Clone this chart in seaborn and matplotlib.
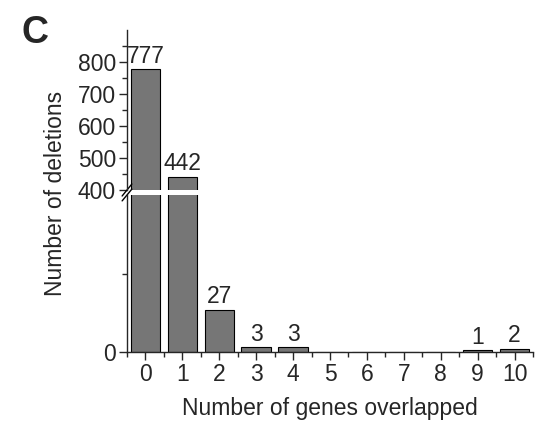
import matplotlib
matplotlib.use("Agg")
import matplotlib.pyplot as plt
import seaborn as sns
import numpy as np
from matplotlib.ticker import FixedLocator

sns.set_style("ticks")
plt.rcParams['font.family'] = ['Liberation Sans', 'DejaVu Sans']

genes = ["0", "1", "2", "3", "4", "5", "6", "7", "8", "9", "10"]
deletions = [777, 442, 27, 3, 3, 0, 0, 0, 0, 1, 2]
labels = ["777", "442", "27", "3", "3", "", "", "", "", "1", "2"]

FS = 16.5
fig = plt.figure(figsize=(5.46, 4.25), dpi=100)
fig.patch.set_facecolor("white")
L, R = 127/546, 533/546
ax_top = fig.add_axes([L, 1-190/425, R-L, (190-30)/425])
ax_bot = fig.add_axes([L, 1-352/425, R-L, (352-195)/425])

bar_kw = dict(color="#767676", edgecolor="black", linewidth=0.8, saturation=1, width=0.8)
for ax in (ax_top, ax_bot):
    sns.barplot(x=genes, y=deletions, ax=ax, **bar_kw)
    ax.set_xlim(-0.5, 10.5)
    ax.set_facecolor("white")
    ax.spines['right'].set_visible(False)
    ax.spines['top'].set_visible(False)
    ax.set_ylabel("")
    ax.set_xlabel("")
    ax.tick_params(axis='both', which='major', direction='out', length=6, width=1, labelsize=FS, pad=2)
    ax.tick_params(axis='both', which='minor', direction='out', length=3.5, width=1)
    for s in ax.spines.values():
        s.set_linewidth(1)

ax_top.set_ylim(400, 900)
ax_top.set_yticks([400, 500, 600, 700, 800])
ax_top.yaxis.set_minor_locator(FixedLocator([450, 550, 650, 750, 850]))
ax_top.spines['bottom'].set_visible(False)
ax_top.tick_params(axis='x', which='both', bottom=False, labelbottom=False)

ax_bot.set_ylim(0, 100)
ax_bot.set_yticks([0])
ax_bot.yaxis.set_minor_locator(FixedLocator([50]))
ax_bot.xaxis.set_minor_locator(FixedLocator(np.arange(-0.5, 10.6, 1.0)))
ax_bot.set_xlabel("Number of genes overlapped", fontsize=FS, labelpad=8)

# value labels
for i, (v, t) in enumerate(zip(deletions, labels)):
    if not t:
        continue
    target = ax_top if v > 400 else ax_bot
    target.annotate(t, (i, v), xytext=(0, 1), textcoords='offset points',
                    ha='center', va='bottom', fontsize=FS)

# break marks
d = 0.015
kw = dict(color='black', clip_on=False, linewidth=1)
ax_top.plot([-d*0.8, d*0.8], [-d*2.5, d*2.5], transform=ax_top.transAxes, **kw)
ax_bot.plot([-d*0.8, d*0.8], [1-d*2.5, 1+d*2.5], transform=ax_bot.transAxes, **kw)

fig.text(0.102, 0.544, "Number of deletions", rotation=90, ha='center', va='center', fontsize=FS)
fig.text(0.064, 0.922, "C", ha='center', va='center', fontsize=27, fontweight='bold')

fig.savefig("out.png", dpi=100, facecolor="white")
